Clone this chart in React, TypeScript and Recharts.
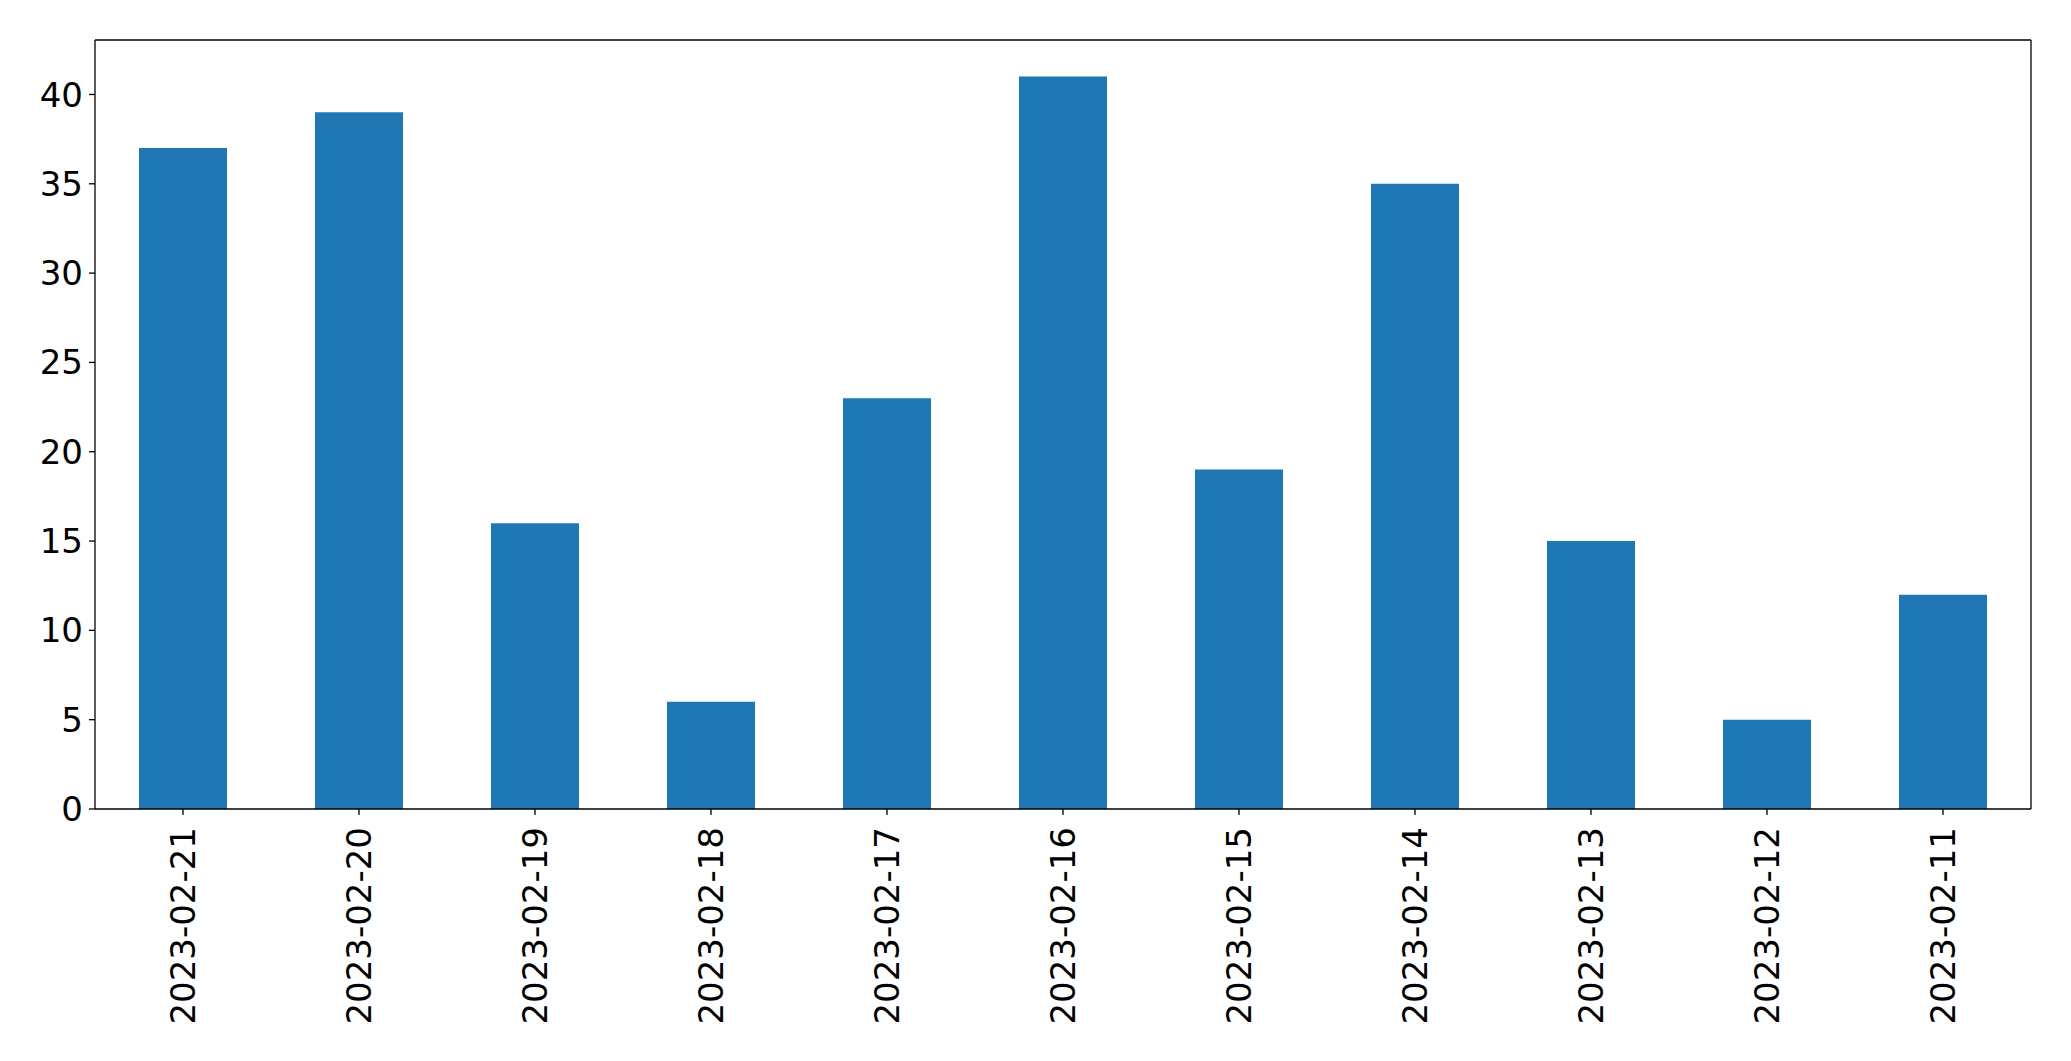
import { BarChart, Bar, XAxis, YAxis } from "recharts"

const dates = [
  "2023-02-21", "2023-02-20", "2023-02-19", "2023-02-18", "2023-02-17", "2023-02-16",
  "2023-02-15", "2023-02-14", "2023-02-13", "2023-02-12", "2023-02-11",
]
const counts = [37, 39, 16, 6, 23, 41, 19, 35, 15, 5, 12]
const yTicks = [0, 5, 10, 15, 20, 25, 30, 35, 40]

const data = dates.map((d, i) => ({ date: d, count: counts[i] }))
const yMax = Math.max(...counts) * 1.05

const font = "'DejaVu Sans', sans-serif"

const DateTick = (props: any) => {
  const { x, y, payload } = props
  return (
    <g transform={`translate(${x},${y})`}>
      <text transform="rotate(-90)" x={-10} y={0} textAnchor="end" dominantBaseline="central" fill="#000" fontSize={34} fontFamily={font}>
        {payload.value}
      </text>
    </g>
  )
}

export default function App() {
  return (
    <div style={{ position: "absolute", left: 0, top: 0, width: 2071, height: 1061, background: "#fff" }}>
      <BarChart width={2071} height={1061} data={data} margin={{ top: 0, right: 0, left: 0, bottom: 0 }} barCategoryGap="25%">
        <XAxis xAxisId="top" orientation="top" dataKey="date" height={40} tick={false} tickLine={false} axisLine={{ stroke: "#000", strokeWidth: 1.3 }} />
        <XAxis dataKey="date" height={252} interval={0} tick={<DateTick />} tickSize={6} tickLine={{ stroke: "#000", strokeWidth: 1.3 }} axisLine={{ stroke: "#000", strokeWidth: 1.3 }} />
        <YAxis domain={[0, yMax]} ticks={yTicks} width={95} tickSize={6} tickMargin={6} tick={{ fill: "#000", fontSize: 34, fontFamily: font }} tickLine={{ stroke: "#000", strokeWidth: 1.3 }} axisLine={{ stroke: "#000", strokeWidth: 1.3 }} />
        <YAxis yAxisId="right" orientation="right" domain={[0, yMax]} width={40} tick={false} tickLine={false} axisLine={{ stroke: "#000", strokeWidth: 1.3 }} />
        <Bar dataKey="count" fill="#1f77b4" isAnimationActive={false} />
      </BarChart>
    </div>
  )
}
